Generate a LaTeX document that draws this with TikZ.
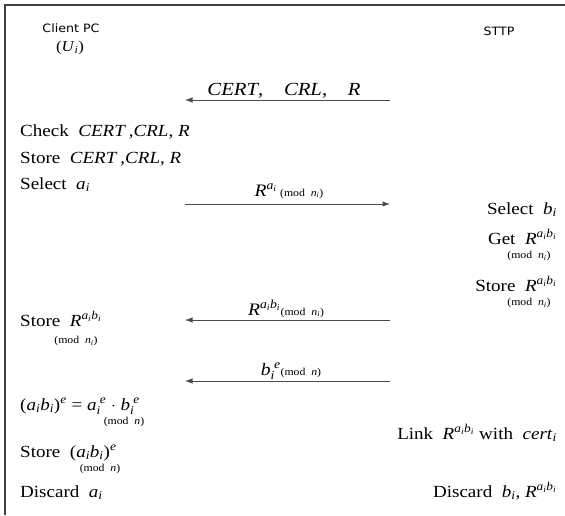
\documentclass[tikz,border=0pt]{standalone}
\usepackage{amsmath}
\usepackage{fontspec}
\setmainfont{Liberation Serif}[FakeStretch=1.12]
\newfontfamily\labsans{DejaVu Sans}[FakeStretch=1.1]
\usetikzlibrary{arrows.meta}
\newcommand\vi[1]{\textit{#1}}
\newcommand\Rab{\vi{R}$^{\vi{a}_{\vi{i}}\vi{b}_{\vi{i}}}$}
\newcommand\modi{(mod\ \ \vi{n}$_{\vi{i}}$)}
\newcommand\modn{(mod\ \ \vi{n})}
\tikzset{
  frame/.style={draw=black!75, line width=1.4pt},
  txt/.style={inner sep=0pt, font=\fontsize{17}{20}\selectfont},
  lbl/.style={inner sep=0pt, font=\fontsize{17.5}{20}\selectfont},
  modt/.style={inner sep=0pt, font=\fontsize{10.5}{12}\selectfont},
  head/.style={inner sep=0pt, font=\labsans\fontsize{11.5}{14}\selectfont},
  msg/.style={draw=black!70, line width=0.8pt, -{Latex[length=7.5pt,width=5.5pt]}}
}
\begin{document}
\begin{tikzpicture}[x=1pt,y=-1pt]
\useasboundingbox (0,0) rectangle (565,515);
\draw[frame] (4,5) -- (565,5);
\draw[frame] (5,5) -- (5,515);
% headers
\node[head] (client) at (71,28) {Client PC};
\node[inner sep=0pt, font=\fontsize{15}{16}\selectfont] (ui) at (70,48) {(\vi{U}$_{\vi{i}}$)};
\node[head] (sttp) at (499,31) {STTP};
% arrow coordinates
\coordinate (m1l) at (185,100); \coordinate (m1r) at (390,100);
\coordinate (m2l) at (185,204); \coordinate (m2r) at (390,204);
\coordinate (m3l) at (185,320); \coordinate (m3r) at (390,320);
\coordinate (m4l) at (185,381); \coordinate (m4r) at (390,381);
\draw[msg] (m1r) -- (m1l);
\draw[msg] (m2l) -- (m2r);
\draw[msg] (m3r) -- (m3l);
\draw[msg] (m4r) -- (m4l);
% arrow labels
\node[lbl, anchor=base, font=\fontsize{18.5}{20}\selectfont] (l1) at (284,95) {\vi{CERT},\ \ \ \ \vi{CRL},\ \ \ \ \vi{R}};
\node[lbl, anchor=base] (l2) at (289,196) {\vi{R}$^{\vi{a}_{\vi{i}}}$\,{\fontsize{10.5}{12}\selectfont\modi}};
\node[lbl, anchor=base] (l3) at (286,315) {\Rab{\fontsize{10.5}{12}\selectfont\modi}};
\node[lbl, anchor=base] (l4) at (291,375) {\vi{b}$_{\vi{i}}^{\;\vi{e}}${\fontsize{10.5}{12}\selectfont\modn}};
% client side
\node[txt, anchor=base west] (c1) at (20,136) {Check\ \ \vi{CERT}\,,\vi{CRL}, \vi{R}};
\node[txt, anchor=base west] (c2) at (20,163) {Store\ \ \vi{CERT}\,,\vi{CRL}, \vi{R}};
\node[txt, anchor=base west] (c3) at (20,189) {Select\ \ \vi{a}$_{\vi{i}}$};
\node[txt, anchor=base west] (c4) at (20,326) {Store\ \ \Rab};
\node[modt] (c4m) at (76,341) {\modi};
\node[txt, anchor=base west] (c5) at (20,410) {(\vi{a}$_{\vi{i}}$\vi{b}$_{\vi{i}}$)$^{\vi{e}}$ = \vi{a}$_{\vi{i}}^{\;\vi{e}}$ $\cdot$ \vi{b}$_{\vi{i}}^{\;\vi{e}}$};
\node[modt] (c5m) at (124,422) {\modn};
\node[txt, anchor=base west] (c6) at (20,457) {Store\ \ (\vi{a}$_{\vi{i}}$\vi{b}$_{\vi{i}}$)$^{\vi{e}}$};
\node[modt] (c6m) at (100,469) {\modn};
\node[txt, anchor=base west] (c7) at (20,497) {Discard\ \ \vi{a}$_{\vi{i}}$};
% server side
\node[txt, anchor=base east] (s1) at (557,214) {Select\ \ \vi{b}$_{\vi{i}}$};
\node[txt, anchor=base east] (s2) at (557,244) {Get\ \ \Rab};
\node[modt] (s2m) at (529,256) {\modi};
\node[txt, anchor=base east] (s3) at (557,291) {Store\ \ \Rab};
\node[modt] (s3m) at (529,303) {\modi};
\node[txt, anchor=base east] (s4) at (557,439) {Link\ \ \Rab\ with\ \ \vi{cert}$_{\vi{i}}$};
\node[txt, anchor=base east] (s5) at (557,497) {Discard\ \ \vi{b}$_{\vi{i}}$, \Rab};
\end{tikzpicture}
\end{document}
